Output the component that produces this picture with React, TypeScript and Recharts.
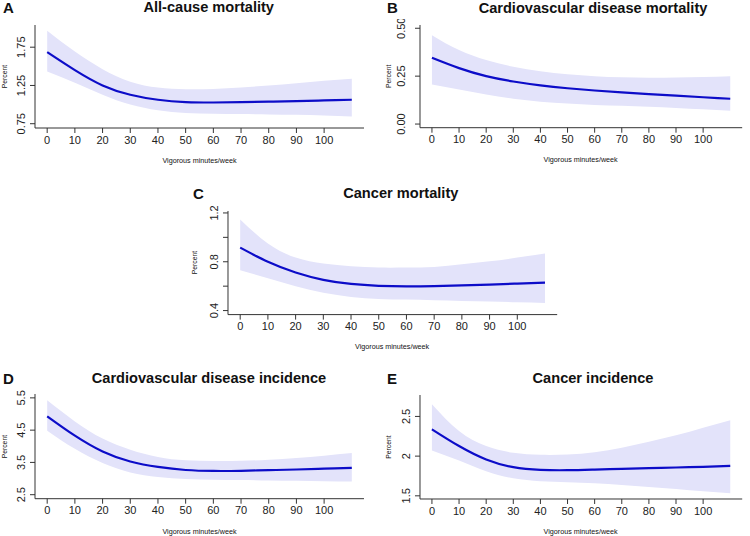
import { Area, ComposedChart, Line, XAxis, YAxis } from 'recharts';

const FONT = '"Liberation Sans", Arial, Helvetica, sans-serif';
const BAND = '#e3e3fa';
const CURVE = '#0c0cc8';
const AXIS = '#333';

// Vigorous minutes/week
const minutes = [0, 10, 20, 30, 40, 50, 60, 70, 80, 90, 100, 110];
const xTicks = [0, 10, 20, 30, 40, 50, 60, 70, 80, 90, 100];

// A: all-cause mortality (percent)
const allCauseFit = [1.685, 1.45, 1.25, 1.128, 1.063, 1.033, 1.027, 1.031, 1.038, 1.045, 1.054, 1.063];
const allCauseLower = [1.432, 1.285, 1.13, 1.0, 0.925, 0.889, 0.88, 0.876, 0.871, 0.867, 0.858, 0.845];
const allCauseUpper = [1.966, 1.693, 1.463, 1.3, 1.223, 1.202, 1.205, 1.223, 1.25, 1.28, 1.31, 1.337];

// B: cardiovascular disease mortality
const cvdMortFit = [0.346, 0.292, 0.25, 0.222, 0.202, 0.187, 0.175, 0.165, 0.156, 0.148, 0.14, 0.132];
const cvdMortLower = [0.207, 0.18, 0.154, 0.132, 0.117, 0.107, 0.1, 0.095, 0.09, 0.084, 0.077, 0.069];
const cvdMortUpper = [0.464, 0.386, 0.334, 0.299, 0.276, 0.26, 0.25, 0.244, 0.242, 0.243, 0.246, 0.25];

// C: cancer mortality
const cancerMortFit = [0.916, 0.8, 0.712, 0.652, 0.618, 0.603, 0.599, 0.601, 0.606, 0.613, 0.621, 0.629];
const cancerMortLower = [0.73, 0.665, 0.6, 0.546, 0.512, 0.495, 0.49, 0.484, 0.479, 0.474, 0.468, 0.462];
const cancerMortUpper = [1.146, 0.949, 0.834, 0.785, 0.763, 0.752, 0.752, 0.758, 0.78, 0.804, 0.834, 0.867];

// D: cardiovascular disease incidence
const cvdIncFit = [4.93, 4.33, 3.84, 3.53, 3.36, 3.265, 3.235, 3.24, 3.26, 3.28, 3.305, 3.33];
const cvdIncLower = [4.485, 3.92, 3.48, 3.19, 3.05, 2.985, 2.965, 2.955, 2.94, 2.93, 2.92, 2.91];
const cvdIncUpper = [5.425, 4.77, 4.24, 3.895, 3.67, 3.565, 3.545, 3.55, 3.585, 3.64, 3.71, 3.79];

// E: cancer incidence
const cancerIncFit = [2.338, 2.127, 1.958, 1.861, 1.827, 1.823, 1.831, 1.84, 1.848, 1.857, 1.865, 1.878];
const cancerIncLower = [2.072, 1.945, 1.81, 1.72, 1.684, 1.671, 1.658, 1.637, 1.611, 1.586, 1.557, 1.532];
const cancerIncUpper = [2.654, 2.316, 2.127, 2.042, 2.017, 2.021, 2.05, 2.105, 2.181, 2.262, 2.358, 2.452];

function buildRows(fit: number[], lower: number[], upper: number[]) {
  return minutes.map((m, i) => ({ minutes: m, fit: fit[i], band: [lower[i], upper[i]] }));
}

interface PanelSpec {
  letter: string;
  title: string;
  rows: ReturnType<typeof buildRows>;
  yDomain: [number, number];
  yTicks: number[];
  yLabels: Record<string, string>;
  labelGap: number;
  // plot region in page pixels
  box: { x0: number; y0: number; x1: number; y1: number };
  titleX: number;
  titleY: number;
  letterX: number;
  letterY: number;
}

const panels: PanelSpec[] = [
  {
    letter: 'A',
    title: 'All-cause mortality',
    rows: buildRows(allCauseFit, allCauseLower, allCauseUpper),
    yDomain: [0.694, 2.04],
    yTicks: [0.75, 1.25, 1.75],
    yLabels: { '0.75': '0.75', '1.25': '1.25', '1.75': '1.75' },
    labelGap: 5,
    box: { x0: 35, y0: 25, x1: 364, y1: 128 },
    titleX: 208.7,
    titleY: 11.5,
    letterX: 3,
    letterY: 12.5,
  },
  {
    letter: 'B',
    title: 'Cardiovascular disease mortality',
    rows: buildRows(cvdMortFit, cvdMortLower, cvdMortUpper),
    yDomain: [-0.019, 0.517],
    yTicks: [0, 0.25, 0.5],
    yLabels: { '0': '0.00', '0.25': '0.25', '0.5': '0.50' },
    labelGap: 10,
    box: { x0: 419.5, y0: 25, x1: 741.7, y1: 127.7 },
    titleX: 593,
    titleY: 12.5,
    letterX: 387,
    letterY: 13,
  },
  {
    letter: 'C',
    title: 'Cancer mortality',
    rows: buildRows(cancerMortFit, cancerMortLower, cancerMortUpper),
    yDomain: [0.367, 1.216],
    yTicks: [0.4, 0.6, 0.8, 1.0, 1.2],
    yLabels: { '0.4': '0.4', '0.8': '0.8', '1.2': '1.2' },
    labelGap: 5,
    box: { x0: 227.5, y0: 210.7, x1: 556.7, y1: 314.3 },
    titleX: 400.8,
    titleY: 197.5,
    letterX: 193,
    letterY: 199,
  },
  {
    letter: 'D',
    title: 'Cardiovascular disease incidence',
    rows: buildRows(cvdIncFit, cvdIncLower, cvdIncUpper),
    yDomain: [2.376, 5.62],
    yTicks: [2.5, 3.5, 4.5, 5.5],
    yLabels: { '2.5': '2.5', '3.5': '3.5', '4.5': '4.5', '5.5': '5.5' },
    labelGap: 5,
    box: { x0: 35, y0: 394.3, x1: 364, y1: 499 },
    titleX: 209,
    titleY: 382.5,
    letterX: 3,
    letterY: 383.5,
  },
  {
    letter: 'E',
    title: 'Cancer incidence',
    rows: buildRows(cancerIncFit, cancerIncLower, cancerIncUpper),
    yDomain: [1.46, 2.77],
    yTicks: [1.5, 2, 2.5],
    yLabels: { '1.5': '1.5', '2': '2', '2.5': '2.5' },
    labelGap: 5,
    box: { x0: 419.5, y0: 395, x1: 741.7, y1: 499 },
    titleX: 593,
    titleY: 383,
    letterX: 387,
    letterY: 383.5,
  },
];

const Y_AXIS_W = 40;
const X_AXIS_H = 40;
const PAD_TOP = 6;
const PAD_RIGHT = 8;

function Panel({ p }: { p: PanelSpec }) {
  const { x0, y0, x1, y1 } = p.box;
  const width = x1 - x0 + Y_AXIS_W + PAD_RIGHT;
  const height = y1 - y0 + PAD_TOP + X_AXIS_H;

  const yTick = (props: any) => {
    const { x, y, payload } = props;
    const txt = p.yLabels[String(payload.value)] ?? '';
    return (
      <text
        x={x}
        y={y}
        transform={`rotate(-90 ${x} ${y})`}
        textAnchor="middle"
        fontSize={11}
        fontFamily={FONT}
        fill="#222"
      >
        {txt}
      </text>
    );
  };

  return (
    <div style={{ position: 'absolute', left: x0 - Y_AXIS_W, top: y0 - PAD_TOP }}>
      <ComposedChart
        width={width}
        height={height}
        data={p.rows}
        margin={{ top: PAD_TOP, right: PAD_RIGHT, bottom: 0, left: 0 }}
        style={{ overflow: 'visible' }}
      >
        <XAxis
          dataKey="minutes"
          type="number"
          domain={[-4.4, 114.4]}
          allowDataOverflow
          ticks={xTicks}
          interval={0}
          height={X_AXIS_H}
          tickSize={5}
          tickMargin={3}
          stroke={AXIS}
          tick={{ fontSize: 11, fontFamily: FONT, fill: '#222' }}
        />
        <YAxis
          type="number"
          domain={p.yDomain}
          allowDataOverflow
          ticks={p.yTicks}
          interval={0}
          width={Y_AXIS_W}
          tickSize={5}
          tickMargin={p.labelGap}
          stroke={AXIS}
          tick={yTick}
        />
        <Area
          dataKey="band"
          type="natural"
          stroke="none"
          fill={BAND}
          fillOpacity={1}
          isAnimationActive={false}
          activeDot={false}
        />
        <Line
          dataKey="fit"
          type="natural"
          stroke={CURVE}
          strokeWidth={2.2}
          dot={false}
          activeDot={false}
          isAnimationActive={false}
        />
      </ComposedChart>
    </div>
  );
}

function PanelText({ p }: { p: PanelSpec }) {
  const { x0, y0, x1, y1 } = p.box;
  const cy = (y0 + y1) / 2;
  const cx = (x0 + x1) / 2;
  const percentX = p.letterX + 4;
  return (
    <g fontFamily={FONT} fill="#111">
      <text x={p.letterX} y={p.letterY} fontSize={15} fontWeight="bold">
        {p.letter}
      </text>
      <text x={p.titleX} y={p.titleY} fontSize={14.6} fontWeight="bold" textAnchor="middle">
        {p.title}
      </text>
      <text
        x={percentX}
        y={cy}
        fontSize={6.8}
        textAnchor="middle"
        transform={`rotate(-90 ${percentX} ${cy})`}
      >
        Percent
      </text>
      <text x={cx} y={y1 + 34.5} fontSize={7.2} textAnchor="middle">
        Vigorous minutes/week
      </text>
    </g>
  );
}

export default function App() {
  return (
    <div
      style={{
        position: 'absolute',
        left: 0,
        top: 0,
        width: 750,
        height: 536,
        background: '#fff',
        overflow: 'hidden',
      }}
    >
      {panels.map((p) => (
        <Panel key={p.letter} p={p} />
      ))}
      <svg
        width={750}
        height={536}
        style={{ position: 'absolute', left: 0, top: 0, pointerEvents: 'none' }}
      >
        {panels.map((p) => (
          <PanelText key={p.letter} p={p} />
        ))}
      </svg>
    </div>
  );
}
